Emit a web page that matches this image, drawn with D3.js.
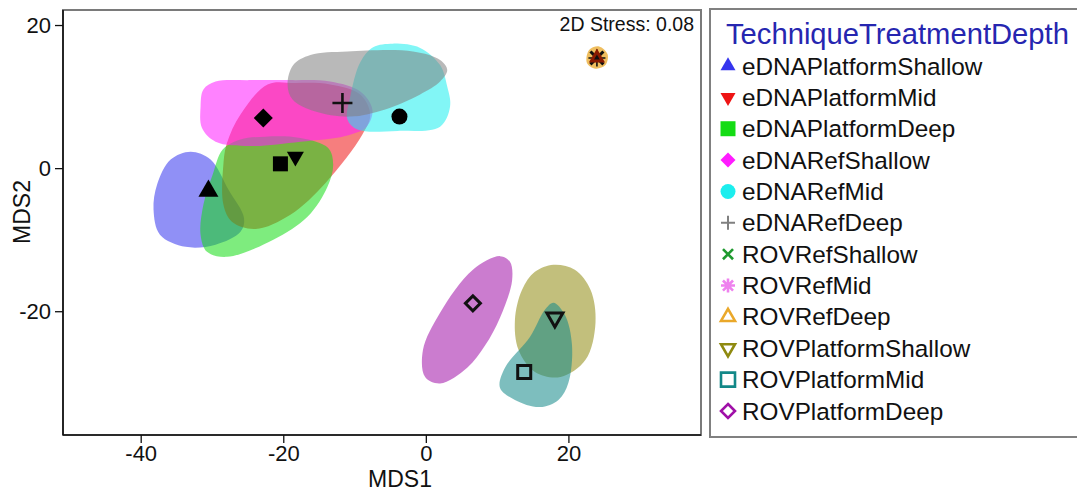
<!DOCTYPE html>
<html>
<head>
<meta charset="utf-8">
<script src="https://cdn.jsdelivr.net/npm/d3@7"></script>
<style>
  html, body { margin: 0; padding: 0; background: #ffffff; }
  svg { display: block; font-family: "Liberation Sans", Arial, Helvetica, sans-serif; }
</style>
</head>
<body>
<svg id="chart" width="1077" height="491"></svg>
<script>
// NMDS ordination: group centroids and smoothed group envelopes (MDS1 vs MDS2)
const groups = [
  "eDNAPlatformShallow", "eDNAPlatformMid", "eDNAPlatformDeep",
  "eDNARefShallow", "eDNARefMid", "eDNARefDeep",
  "ROVRefShallow", "ROVRefMid", "ROVRefDeep",
  "ROVPlatformShallow", "ROVPlatformMid", "ROVPlatformDeep"
];

// centroid coordinates of each group
const centroidMDS1 = [-30.5, -18.3, -20.4, -22.8, -3.7, -11.7, 24.0, 24.0, 24.0, 18.1, 13.8, 6.6];
const centroidMDS2 = [-3.2, 1.6, 0.6, 7.0, 7.2, 9.1, 15.4, 15.4, 15.4, -20.9, -28.5, -18.9];

// outline vertices [MDS1, MDS2] of each group's envelope
const envelopes = [
  [[-33.0,2.3],[-35.8,1.2],[-37.7,-2.3],[-38.2,-5.8],[-37.3,-9.3],[-33.7,-11.0],[-29.5,-10.7],[-26.0,-8.9],[-25.5,-7.0],[-27.7,-3.0],[-30.2,1.2]],
  [[-22.2,11.7],[-26.0,7.5],[-27.9,3.5],[-28.4,0.5],[-28.4,-5.1],[-27.2,-7.5],[-23.9,-8.5],[-19.0,-6.5],[-14.1,-2.1],[-8.9,4.7],[-7.8,7.5],[-9.2,10.3],[-13.4,11.7],[-18.3,11.9]],
  [[-26.0,4.0],[-28.5,2.6],[-29.9,-0.9],[-31.2,-5.1],[-31.6,-9.3],[-30.7,-11.7],[-27.9,-12.4],[-21.4,-10.0],[-16.6,-6.8],[-13.8,-2.6],[-13.0,0.5],[-13.7,2.8],[-17.6,4.2],[-22.5,4.4]],
  [[-31.6,8.6],[-31.2,11.0],[-29.5,12.1],[-24.6,12.3],[-19.0,12.3],[-13.4,12.1],[-9.2,10.7],[-7.5,8.2],[-8.3,5.8],[-11.3,4.5],[-17.6,3.7],[-24.6,3.1],[-29.5,3.7],[-31.4,5.6]],
  [[-9.2,14.8],[-7.4,16.9],[-4.6,17.4],[-0.8,16.8],[2.0,14.4],[3.0,11.4],[3.4,8.6],[2.0,5.8],[-4.0,5.2],[-9.6,5.4],[-11.0,6.8],[-10.6,10.0]],
  [[-19.4,11.7],[-18.6,14.4],[-16.2,15.8],[-11.0,16.3],[-1.8,16.3],[2.0,15.1],[3.0,13.7],[2.0,12.1],[-0.8,10.3],[-5.7,8.2],[-10.6,7.2],[-15.5,7.9],[-18.7,9.6]],
  [[23.7,15.7],[24.2,15.8],[24.4,15.3],[24.2,15.0],[23.7,15.0],[23.6,15.4]],
  [[23.6,15.8],[24.3,15.9],[24.6,15.4],[24.3,14.9],[23.7,14.8],[23.5,15.3]],
  [[22.9,16.5],[24.3,17.0],[25.5,15.9],[25.2,14.4],[23.8,13.9],[22.6,14.7]],
  [[17.9,-13.5],[20.9,-14.2],[23.1,-17.0],[23.8,-21.6],[22.4,-26.8],[18.9,-29.2],[15.3,-28.5],[13.0,-25.4],[12.5,-21.2],[13.5,-17.0],[15.3,-14.5]],
  [[17.9,-18.8],[19.5,-20.5],[20.5,-24.7],[20.0,-30.0],[18.6,-32.4],[16.0,-33.4],[12.5,-32.4],[10.4,-30.7],[11.1,-27.9],[14.6,-23.6],[16.7,-19.8]],
  [[10.4,-12.3],[11.8,-13.1],[12.1,-15.7],[10.4,-20.9],[8.3,-24.8],[5.8,-27.9],[2.0,-30.1],[-0.1,-29.2],[-0.4,-25.4],[2.0,-20.2],[6.6,-14.2]]
];

const xTicks = [-40, -20, 0, 20];
const yTicks = [-20, 0, 20];
const stressLabel = "2D Stress: 0.08";
const legendTitle = "TechniqueTreatmentDepth";

// per-group drawing styles
const groupColors = [
  "#3535ee", "#ee1414", "#14dc14", "#ff1cff", "#1ceeee", "#808080",
  "#1f9a2f", "#ee82ee", "#eaa82a", "#8f8a10", "#138888", "#a010a8"
];
const groupFillOpacity = [0.55, 0.55, 0.55, 0.55, 0.55, 0.55, 0.55, 0.55, 0.75, 0.55, 0.55, 0.55];
const groupSymbols = [
  "triUp", "triDown", "square", "diamond", "circle", "plus",
  "cross", "asterisk", "triUpOpen", "triDownOpen", "squareOpen", "diamondOpen"
];

const svg = d3.select("#chart");
const plot = { left: 63, right: 701, top: 10, bottom: 435 };

const x = d3.scaleLinear().domain([-50.9, 38.6]).range([plot.left, plot.right]);
const y = d3.scaleLinear().domain([-37.3, 22.1]).range([plot.bottom, plot.top]);

// symbol path generator, centred on 0,0; s is the nominal width in px
function symbolPath(kind, s) {
  const h = s / 2;
  switch (kind) {
    case "triUp":
    case "triUpOpen": {
      const r = s / Math.sqrt(3);
      return `M0,${-r}L${h},${r / 2}L${-h},${r / 2}Z`;
    }
    case "triDown":
    case "triDownOpen": {
      const r = s / Math.sqrt(3);
      return `M0,${r}L${h},${-r / 2}L${-h},${-r / 2}Z`;
    }
    case "square":
    case "squareOpen":
      return `M${-h},${-h}H${h}V${h}H${-h}Z`;
    case "diamond":
    case "diamondOpen":
      return `M0,${-h}L${h},0L0,${h}L${-h},0Z`;
    case "circle":
      return d3.arc()({ innerRadius: 0, outerRadius: h, startAngle: 0, endAngle: 2 * Math.PI });
    case "plus":
      return `M${-h},0H${h}M0,${-h}V${h}`;
    case "cross": {
      const d = h * 0.72;
      return `M${-d},${-d}L${d},${d}M${-d},${d}L${d},${-d}`;
    }
    case "asterisk": {
      const d = h * 0.72;
      return `M${-h},0H${h}M0,${-h}V${h}M${-d},${-d}L${d},${d}M${-d},${d}L${d},${-d}`;
    }
  }
}
function isFilled(kind) {
  return ["triUp", "triDown", "square", "diamond", "circle"].includes(kind);
}

// envelopes
const envLine = d3.line()
  .x(d => x(d[0]))
  .y(d => y(d[1]))
  .curve(d3.curveCatmullRomClosed.alpha(0.5));

svg.append("g")
  .selectAll("path")
  .data(groups)
  .join("path")
  .attr("d", (g, i) => envLine(envelopes[i]))
  .attr("fill", (g, i) => groupColors[i])
  .attr("fill-opacity", (g, i) => groupFillOpacity[i])
  .attr("stroke", "none");

// centroids
const centroidSize = {
  triUp: 20, triDown: 17, square: 15, diamond: 19, circle: 16, plus: 20,
  cross: 18, asterisk: 17, triUpOpen: 11, triDownOpen: 16, squareOpen: 13, diamondOpen: 15
};
svg.append("g")
  .selectAll("path")
  .data(groups)
  .join("path")
  .attr("transform", (g, i) => `translate(${x(centroidMDS1[i])},${y(centroidMDS2[i])})`)
  .attr("d", (g, i) => symbolPath(groupSymbols[i], centroidSize[groupSymbols[i]]))
  .attr("fill", (g, i) => isFilled(groupSymbols[i]) ? "#000" : "none")
  .attr("stroke", (g, i) => isFilled(groupSymbols[i]) ? "none" : (groupSymbols[i] === "triUpOpen" ? "#8a1a00" : "#111"))
  .attr("stroke-width", (g, i) => groupSymbols[i] === "plus" ? 2.6 : (groupSymbols[i] === "asterisk" ? 1.6 : 3));

// panel frame
svg.append("rect")
  .attr("x", plot.left).attr("y", plot.top)
  .attr("width", plot.right - plot.left).attr("height", plot.bottom - plot.top)
  .attr("fill", "none").attr("stroke", "#7a7a7a").attr("stroke-width", 2);

// axes
const fmt = d => String(d);
const xAxis = svg.append("g")
  .attr("transform", `translate(0,${plot.bottom})`)
  .call(d3.axisBottom(x).tickValues(xTicks).tickFormat(fmt).tickSize(8).tickPadding(2));
const yAxis = svg.append("g")
  .attr("transform", `translate(${plot.left},0)`)
  .call(d3.axisLeft(y).tickValues(yTicks).tickFormat(fmt).tickSize(8).tickPadding(4));
[xAxis, yAxis].forEach(a => {
  a.select(".domain").attr("stroke", "#111").attr("stroke-width", 1.6);
  a.selectAll(".tick line").attr("stroke", "#111").attr("stroke-width", 1.3);
  a.selectAll(".tick text")
    .attr("fill", "#111")
    .style("font-size", "22px")
    .style("font-family", "'Liberation Sans', Arial, sans-serif");
});
xAxis.select(".domain").attr("d", `M${plot.left},0H${plot.right}`);
yAxis.select(".domain").attr("d", `M0,${plot.top}V${plot.bottom}`);

// axis titles
svg.append("text")
  .attr("x", 400).attr("y", 487)
  .attr("text-anchor", "middle")
  .attr("fill", "#111")
  .style("font-size", "23px")
  .text("MDS1");
svg.append("text")
  .attr("transform", "translate(30,212) rotate(-90)")
  .attr("text-anchor", "middle")
  .attr("fill", "#111")
  .style("font-size", "23px")
  .text("MDS2");

// stress annotation
svg.append("text")
  .attr("x", 694).attr("y", 31)
  .attr("text-anchor", "end")
  .attr("fill", "#111")
  .style("font-size", "19.5px")
  .text(stressLabel);

// legend
const legend = svg.append("g");
legend.append("rect")
  .attr("x", 710).attr("y", 9)
  .attr("width", 380).attr("height", 428)
  .attr("fill", "#fff").attr("stroke", "#808080").attr("stroke-width", 2);
legend.append("text")
  .attr("x", 726).attr("y", 44)
  .attr("fill", "#2626b0")
  .style("font-size", "29.2px")
  .text(legendTitle);

const rowY = d3.scalePoint().domain(groups).range([66, 411]);
const rows = legend.selectAll("g.row")
  .data(groups)
  .join("g")
  .attr("class", "row")
  .attr("transform", g => `translate(728,${rowY(g)})`);
rows.append("path")
  .attr("d", (g, i) => symbolPath(groupSymbols[i], isFilled(groupSymbols[i]) ? 15 : 14))
  .attr("fill", (g, i) => isFilled(groupSymbols[i]) ? groupColors[i] : "none")
  .attr("stroke", (g, i) => isFilled(groupSymbols[i]) ? "none" : groupColors[i])
  .attr("stroke-width", (g, i) => groupSymbols[i] === "plus" ? 2 : 2.6);
rows.append("text")
  .attr("x", 14).attr("y", 8.5)
  .attr("fill", "#111")
  .style("font-size", "24.3px")
  .text(g => g);
</script>
</body>
</html>
